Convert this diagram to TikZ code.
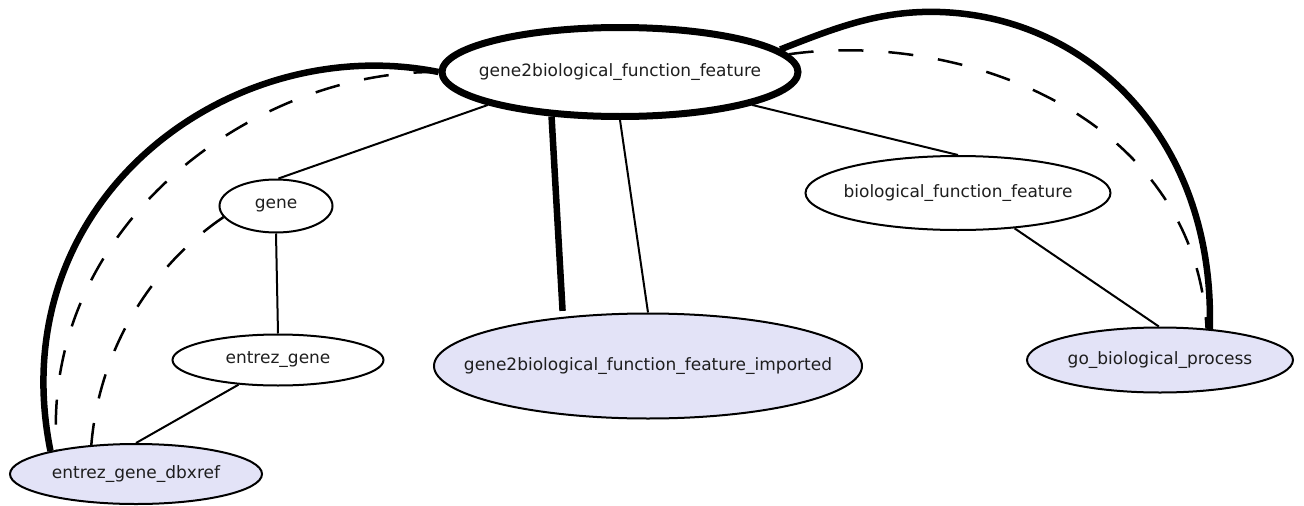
\documentclass[tikz,border=0pt]{standalone}
\usepackage{fontspec}
\setmainfont{DejaVu Sans}
\usetikzlibrary{shapes.geometric}
\definecolor{lav}{RGB}{227,227,247}
\definecolor{ink}{RGB}{30,30,30}
\begin{document}
\begin{tikzpicture}[x=1pt,y=-1pt,font=\fontsize{17}{20}\selectfont,
  ent/.style={ellipse, draw, line width=2pt, inner sep=0pt},
  impnode/.style={ent, fill=lav},
  hub/.style={ent, line width=7pt},
  thinedge/.style={line width=2pt},
  thickedge/.style={line width=6.5pt},
  dashedge/.style={line width=2.5pt, dash pattern=on 25pt off 25pt},
  every label/.style={text=ink}]
\useasboundingbox (0,0) rectangle (1304,506);

\node[hub, minimum width=356pt, minimum height=89pt, label=center:{gene2biological\_function\_feature}] (top) at (620,72) {};
\node[ent, minimum width=113pt, minimum height=53pt, label=center:{gene}] (gene) at (276,206) {};
\node[ent, minimum width=211pt, minimum height=51pt, label=center:{entrez\_gene}] (eg) at (278,360) {};
\node[impnode, minimum width=252pt, minimum height=60pt, label=center:{entrez\_gene\_dbxref}] (dbx) at (136,474) {};
\node[impnode, minimum width=428pt, minimum height=105pt, label=center:{gene2biological\_function\_feature\_imported}] (gi) at (648,366) {};
\node[ent, minimum width=305pt, minimum height=74pt, label=center:{biological\_function\_feature}] (bff) at (958,193) {};
\node[impnode, minimum width=266pt, minimum height=65pt, label=center:{go\_biological\_process}] (go) at (1160,360) {};

\draw[thinedge] (top.194) -- (gene.85);
\draw[thinedge] (gene.south) -- (eg.north);
\draw[thinedge] (eg.212) -- (dbx.90);
\draw[thickedge, shorten >=6pt] (top.213) -- (gi.150);
\draw[thinedge] (top.270) -- (gi.90);
\draw[thinedge] (top.346) -- (bff.90);
\draw[thinedge] (bff.328) -- (go.92);

\draw[thickedge] (top.180) .. controls (230,30) and (0,200) .. (dbx.165);
\draw[dashedge] (top.180) .. controls (250,70) and (40,230) .. (dbx.163);
\draw[dashedge] (gene.192) .. controls (160,260) and (100,340) .. (dbx.147);
\draw[thickedge] (top.8) .. controls (835,28) and (880,10) .. (940,12) .. controls (1090,17) and (1215,140) .. (go.32);
\draw[dashedge] (top.6) .. controls (960,30) and (1195,115) .. (go.34);
\end{tikzpicture}
\end{document}
